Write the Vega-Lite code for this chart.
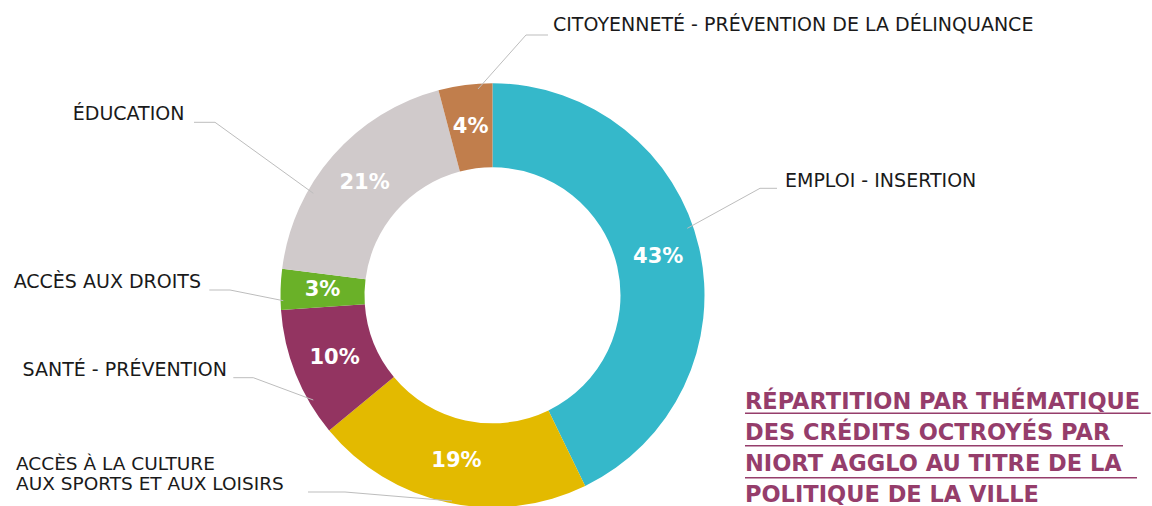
{
  "$schema": "https://vega.github.io/schema/vega-lite/v6.json",
  "width": 1152,
  "height": 506,
  "autosize": {"type": "none"},
  "padding": 0,
  "background": "white",
  "config": {"view": {"stroke": null}},
  "datasets": {
    "slices": [
      {"theme": "Emploi - Insertion", "ord": 1, "share": 42.8, "pct": "43%"},
      {"theme": "Accès à la culture aux sports et aux loisirs", "ord": 2, "share": 21.2, "pct": "19%"},
      {"theme": "Santé - Prévention", "ord": 3, "share": 9.9, "pct": "10%"},
      {"theme": "Accès aux droits", "ord": 4, "share": 3.1, "pct": "3%"},
      {"theme": "Éducation", "ord": 5, "share": 18.9, "pct": "21%"},
      {"theme": "Citoyenneté - Prévention de la délinquance", "ord": 6, "share": 4.1, "pct": "4%"}
    ],
    "leaders": [
      {"id": "cit", "seq": 1, "lx": -14.5, "ly": -206.3},
      {"id": "cit", "seq": 2, "lx": 33.5, "ly": -260.3},
      {"id": "cit", "seq": 3, "lx": 55.5, "ly": -260.3},
      {"id": "emp", "seq": 1, "lx": 194.8, "ly": -67},
      {"id": "emp", "seq": 2, "lx": 267.5, "ly": -107},
      {"id": "emp", "seq": 3, "lx": 284.5, "ly": -107},
      {"id": "edu", "seq": 1, "lx": -179.2, "ly": -102},
      {"id": "edu", "seq": 2, "lx": -277.5, "ly": -173},
      {"id": "edu", "seq": 3, "lx": -298.5, "ly": -173},
      {"id": "dro", "seq": 1, "lx": -209.2, "ly": 5.4},
      {"id": "dro", "seq": 2, "lx": -262.5, "ly": -5.3},
      {"id": "dro", "seq": 3, "lx": -283.2, "ly": -5.3},
      {"id": "san", "seq": 1, "lx": -179.2, "ly": 104.7},
      {"id": "san", "seq": 2, "lx": -239.2, "ly": 82.4},
      {"id": "san", "seq": 3, "lx": -259.2, "ly": 82.4},
      {"id": "cul", "seq": 1, "lx": -40.5, "ly": 205.7},
      {"id": "cul", "seq": 2, "lx": -147.5, "ly": 196.7},
      {"id": "cul", "seq": 3, "lx": -184.5, "ly": 196.7}
    ],
    "labelsEnd": [
      {"label": "ÉDUCATION", "lx": -308, "ly": -175.3},
      {"label": "ACCÈS AUX DROITS", "lx": -291.5, "ly": -7},
      {"label": "SANTÉ - PRÉVENTION", "lx": -265.5, "ly": 80.7}
    ],
    "labelsStart": [
      {"label": "EMPLOI - INSERTION", "lx": 292.5, "ly": -108.6},
      {"label": "CITOYENNETÉ - PRÉVENTION DE LA DÉLINQUANCE", "lx": 60.5, "ly": -264.3}
    ],
    "labelsMulti": [
      {"label": ["ACCÈS À LA CULTURE", "AUX SPORTS ET AUX LOISIRS"], "lx": -476.5, "ly": 174.8}
    ],
    "title": [
      {"line": "RÉPARTITION PAR THÉMATIQUE", "lx": 252.5, "ly": 114},
      {"line": "DES CRÉDITS OCTROYÉS PAR", "lx": 252.5, "ly": 144.7},
      {"line": "NIORT AGGLO AU TITRE DE LA", "lx": 252.5, "ly": 175.4},
      {"line": "POLITIQUE DE LA VILLE", "lx": 252.5, "ly": 206.4}
    ],
    "underlines": [
      {"x1": 252.5, "x2": 658.2, "uy": 118},
      {"x1": 252.5, "x2": 630.5, "uy": 150.4},
      {"x1": 252.5, "x2": 644.5, "uy": 182.4}
    ]
  },
  "layer": [
    {
      "data": {"name": "slices"},
      "mark": {"type": "arc", "radius": 212, "innerRadius": 128, "stroke": null},
      "encoding": {
        "x": {"datum": 0, "type": "quantitative", "scale": {"domain": [-492.5, 659.5], "nice": false, "zero": false}, "axis": null},
        "y": {"datum": 0, "type": "quantitative", "scale": {"domain": [-295.3, 210.7], "reverse": true, "nice": false, "zero": false}, "axis": null},
        "theta": {"field": "share", "type": "quantitative", "stack": true},
        "order": {"field": "ord", "type": "quantitative"},
        "color": {
          "field": "theme", "type": "nominal", "legend": null,
          "scale": {
            "domain": ["Emploi - Insertion", "Accès à la culture aux sports et aux loisirs", "Santé - Prévention", "Accès aux droits", "Éducation", "Citoyenneté - Prévention de la délinquance"],
            "range": ["#35B8CA", "#E3BA00", "#933461", "#6AB128", "#D0CACB", "#C17E4C"]
          }
        }
      }
    },
    {
      "data": {"name": "slices"},
      "mark": {"type": "text", "radius": 170, "font": "DejaVu Sans", "fontSize": 21, "fontWeight": "bold", "color": "white", "align": "center", "baseline": "middle"},
      "encoding": {
        "x": {"datum": 0, "type": "quantitative"},
        "y": {"datum": 0, "type": "quantitative"},
        "theta": {"field": "share", "type": "quantitative", "stack": true},
        "order": {"field": "ord", "type": "quantitative"},
        "text": {"field": "pct", "type": "nominal"}
      }
    },
    {
      "data": {"name": "leaders"},
      "mark": {"type": "line", "color": "#BDBDBD", "strokeWidth": 1},
      "encoding": {
        "x": {"field": "lx", "type": "quantitative"},
        "y": {"field": "ly", "type": "quantitative"},
        "detail": {"field": "id", "type": "nominal"},
        "order": {"field": "seq", "type": "quantitative"}
      }
    },
    {
      "data": {"name": "labelsEnd"},
      "mark": {"type": "text", "align": "right", "baseline": "alphabetic", "font": "DejaVu Sans", "fontSize": 19, "fontWeight": "normal", "color": "#1a1a1a"},
      "encoding": {
        "x": {"field": "lx", "type": "quantitative"},
        "y": {"field": "ly", "type": "quantitative"},
        "text": {"field": "label", "type": "nominal"}
      }
    },
    {
      "data": {"name": "labelsStart"},
      "mark": {"type": "text", "align": "left", "baseline": "alphabetic", "font": "DejaVu Sans", "fontSize": 19, "fontWeight": "normal", "color": "#1a1a1a"},
      "encoding": {
        "x": {"field": "lx", "type": "quantitative"},
        "y": {"field": "ly", "type": "quantitative"},
        "text": {"field": "label", "type": "nominal"}
      }
    },
    {
      "data": {"name": "labelsMulti"},
      "mark": {"type": "text", "align": "left", "baseline": "alphabetic", "font": "DejaVu Sans", "fontSize": 18.5, "fontWeight": "normal", "color": "#1a1a1a", "lineHeight": 19.5},
      "encoding": {
        "x": {"field": "lx", "type": "quantitative"},
        "y": {"field": "ly", "type": "quantitative"},
        "text": {"field": "label", "type": "nominal"}
      }
    },
    {
      "data": {"name": "title"},
      "mark": {"type": "text", "align": "left", "baseline": "alphabetic", "font": "DejaVu Sans", "fontSize": 22.5, "fontWeight": "bold", "color": "#953D6B"},
      "encoding": {
        "x": {"field": "lx", "type": "quantitative"},
        "y": {"field": "ly", "type": "quantitative"},
        "text": {"field": "line", "type": "nominal"}
      }
    },
    {
      "data": {"name": "underlines"},
      "mark": {"type": "rule", "color": "#953D6B", "strokeWidth": 1.5},
      "encoding": {
        "x": {"field": "x1", "type": "quantitative"},
        "x2": {"field": "x2"},
        "y": {"field": "uy", "type": "quantitative"}
      }
    }
  ]
}
